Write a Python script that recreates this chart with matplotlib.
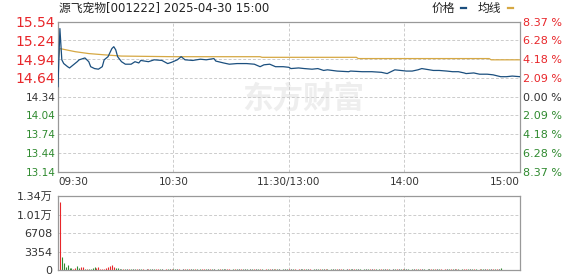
import matplotlib
matplotlib.use('Agg')
import matplotlib.pyplot as plt
from matplotlib.lines import Line2D

plt.rcParams['font.family'] = ['DejaVu Sans', 'Noto Sans CJK SC']

# --- datos ---
title = '源飞宠物[001222] 2025-04-30 15:00'
time_ticks = [0, 60, 120, 180, 240]
time_labels = ['09:30', '10:30', '11:30/13:00', '14:00', '15:00']

price_ticks = [13.14, 13.44, 13.74, 14.04, 14.34, 14.64, 14.94, 15.24, 15.54]
price_labels = ['13.14', '13.44', '13.74', '14.04', '14.34', '14.64', '14.94', '15.24', '15.54']
pct_labels = ['8.37 %', '6.28 %', '4.18 %', '2.09 %', '0.00 %', '2.09 %', '4.18 %', '6.28 %', '8.37 %']

# precio por minuto (minuto desde 09:30, sesión continua de 240 min)
price_min = [0, 1, 2, 3, 5, 6, 8, 10, 11, 13, 14, 16, 17, 19, 21, 23, 24, 26, 28, 29,
             30, 31, 33, 35, 38, 40, 42, 43, 47, 50, 54, 57, 59, 62, 64, 66, 70, 74, 77, 81,
             82, 86, 89, 93, 98, 102, 105, 107, 110, 113, 117, 120, 121, 125, 128, 132, 135, 138, 140, 145,
             151, 152, 158, 163, 168, 171, 173, 175, 178, 181, 184, 187, 189, 191, 195, 198, 202, 205, 208, 211,
             212, 216, 219, 223, 226, 230, 233, 236, 240]
price_val = [14.50, 15.43, 14.93, 14.87, 14.82, 14.80, 14.85, 14.90, 14.93, 14.95, 14.96, 14.90, 14.82, 14.79, 14.78, 14.82, 14.93, 14.98, 15.11, 15.14,
             15.09, 14.98, 14.90, 14.86, 14.86, 14.90, 14.88, 14.92, 14.90, 14.93, 14.92, 14.87, 14.89, 14.93, 14.98, 14.93, 14.92, 14.94, 14.93, 14.95,
             14.91, 14.88, 14.86, 14.87, 14.87, 14.86, 14.82, 14.85, 14.86, 14.82, 14.82, 14.81, 14.79, 14.80, 14.79, 14.78, 14.79, 14.76, 14.77, 14.75,
             14.74, 14.75, 14.74, 14.74, 14.73, 14.71, 14.74, 14.77, 14.76, 14.75, 14.75, 14.77, 14.79, 14.78, 14.76, 14.76, 14.75, 14.74, 14.74, 14.72,
             14.71, 14.72, 14.70, 14.70, 14.69, 14.66, 14.66, 14.67, 14.66]

# precio medio
avg_min = [0, 1, 9, 16, 24, 33, 60, 105, 106, 155, 156, 224, 225, 240]
avg_val = [14.90, 15.11, 15.06, 15.03, 15.01, 14.99, 14.98, 14.98, 14.97, 14.97, 14.95, 14.95, 14.93, 14.93]

# volumen por minuto (0..240)
vol = [0, 12400, 2400, 1200, 600, 900, 420, 300, 200, 300, 700, 300, 600, 600, 200, 200, 200, 200, 300, 500,
       300, 600, 200, 150, 200, 300, 500, 800, 900, 600, 300, 300, 150, 200, 150, 120, 180, 150, 200, 150,
       120, 150, 120, 180, 100, 90, 160, 130, 110, 200, 140, 120, 100, 170, 150, 90, 110, 130, 180, 120,
       100, 140, 160, 110, 90, 130, 200, 150, 120, 100, 170, 110, 140, 90, 120, 160, 130, 100, 150, 180,
       110, 120, 90, 150, 130, 100, 170, 120, 140, 110, 90, 160, 130, 120, 100, 150, 180, 110, 130, 90,
       120, 140, 100, 160, 130, 110, 150, 90, 120, 170, 140, 100, 130, 110, 150, 120, 90, 160, 100, 130,
       120, 110, 150, 130, 90, 140, 120, 100, 170, 110, 130, 150, 90, 120, 140, 100, 160, 110, 130, 120,
       150, 90, 110, 140, 120, 100, 130, 160, 110, 90, 150, 120, 140, 100, 130, 110, 170, 120, 90, 150,
       130, 110, 100, 140, 160, 120, 90, 130, 110, 150, 100, 120, 140, 90, 170, 130, 110, 150, 120, 100,
       140, 110, 130, 90, 160, 120, 150, 100, 130, 110, 140, 90, 120, 170, 110, 130, 100, 150, 120, 140,
       90, 160, 110, 130, 120, 100, 150, 140, 110, 90, 130, 120, 160, 100, 140, 110, 150, 130, 90, 120,
       180, 140, 120, 110, 150, 130, 100, 160, 120, 140, 300]
vol_col = ('krggggggrrggrrgrggggrrrrrrrrrrggkgrgkrgkg'
           'rkgrgkrgkgrrgkgrgkrg'
           'gkrgkrgrkgrgkgrrgkrg'
           'krgrgkgrrkgrgkrgkgrk'
           'grkgrgkrgrkgrgkrgkgr'
           'kgrgrkgrgkrrgkgrgkrg'
           'rgkgrkrggkrgkrgkgrgk'
           'grkrgkgrgkrgrkgrkgrg'
           'kgrgkrgrkgrgkrgrkgrg'
           'rkgrgkrgkgrrgkgrgkrg'
           'gkrgkrgrkgrgkgrrgkrr')

c_red = '#e8262a'
c_green = '#2f8a2f'
c_dark = '#333333'
c_price = '#1b4f7e'
c_avg = '#d6a843'
c_grid = '#cccccc'
c_frame = '#999999'

fig = plt.figure(figsize=(5.78, 2.76), dpi=100)
ax = fig.add_axes([0.1003, 0.3779, 0.7993, 0.5435])
axv = fig.add_axes([0.1003, 0.0217, 0.7993, 0.2681])

# --- gráfico de precio ---
ax.plot(price_min, price_val, color=c_price, lw=0.9, zorder=3)
ax.plot(avg_min, avg_val, color=c_avg, lw=0.9, zorder=2)
ax.set_xlim(0, 240)
ax.set_ylim(price_ticks[0], price_ticks[-1])
ax.set_yticks(price_ticks)
ax.set_yticklabels(price_labels)
for i, lab in enumerate(ax.get_yticklabels()):
    if i > 4:
        lab.set_color(c_red)
        lab.set_fontsize(10)
    elif i < 4:
        lab.set_color(c_green)
        lab.set_fontsize(7.5)
    else:
        lab.set_color(c_dark)
        lab.set_fontsize(7.5)
ax.tick_params(axis='y', length=0, pad=2)

ax.set_xticks(time_ticks)
ax.set_xticklabels(time_labels, fontsize=7.5, color=c_dark)
xl = ax.get_xticklabels()
xl[0].set_horizontalalignment('left')
xl[-1].set_horizontalalignment('right')
ax.tick_params(axis='x', length=0, pad=4)

ax.grid(True, color=c_grid, lw=0.7, linestyle=(0, (3, 2)))
for s in ax.spines.values():
    s.set_color(c_frame)
    s.set_linewidth(0.9)

ax2 = ax.twinx()
ax2.set_ylim(ax.get_ylim())
ax2.set_yticks(price_ticks)
ax2.set_yticklabels(pct_labels, fontsize=8)
for i, lab in enumerate(ax2.get_yticklabels()):
    lab.set_color(c_red if i > 4 else (c_green if i < 4 else c_dark))
ax2.tick_params(axis='y', length=0, pad=2)
for s in ax2.spines.values():
    s.set_visible(False)

# marca de agua
ax.text(0.53, 0.49, '东方财富', transform=ax.transAxes, fontsize=22, fontweight='bold',
        color='#eeeeee', ha='center', va='center', zorder=0, family=['Noto Sans CJK SC'])

# --- volumen ---
cmap = {'r': c_red, 'g': c_green, 'k': c_dark}
axv.vlines(range(len(vol)), 0, vol, colors=[cmap[c] for c in vol_col], lw=0.8)
axv.set_xlim(0, 240)
axv.set_ylim(0, 13416)
axv.set_yticks([0, 3354, 6708, 10062, 13416])
axv.set_yticklabels(['0', '3354', '6708', '1.01万', '1.34万'], fontsize=8, color=c_dark)
axv.set_xticks([60, 120, 180])
axv.set_xticklabels([])
axv.tick_params(length=0, pad=4)
axv.grid(True, color=c_grid, lw=0.7, linestyle=(0, (3, 2)))
for s in axv.spines.values():
    s.set_color(c_frame)
    s.set_linewidth(0.9)

# --- título y leyenda ---
fig.text(0.102, 0.968, title, fontsize=8.5, color='#222222', va='center', ha='left')
fig.text(0.747, 0.968, '价格', fontsize=8.5, color='#222222', va='center', ha='left')
fig.text(0.826, 0.968, '均线', fontsize=8.5, color='#222222', va='center', ha='left')
fig.add_artist(Line2D([0.798, 0.806], [0.972, 0.972], lw=1.6, color=c_price, transform=fig.transFigure))
fig.add_artist(Line2D([0.879, 0.887], [0.972, 0.972], lw=1.6, color=c_avg, transform=fig.transFigure))

fig.savefig('out.png', dpi=100)
